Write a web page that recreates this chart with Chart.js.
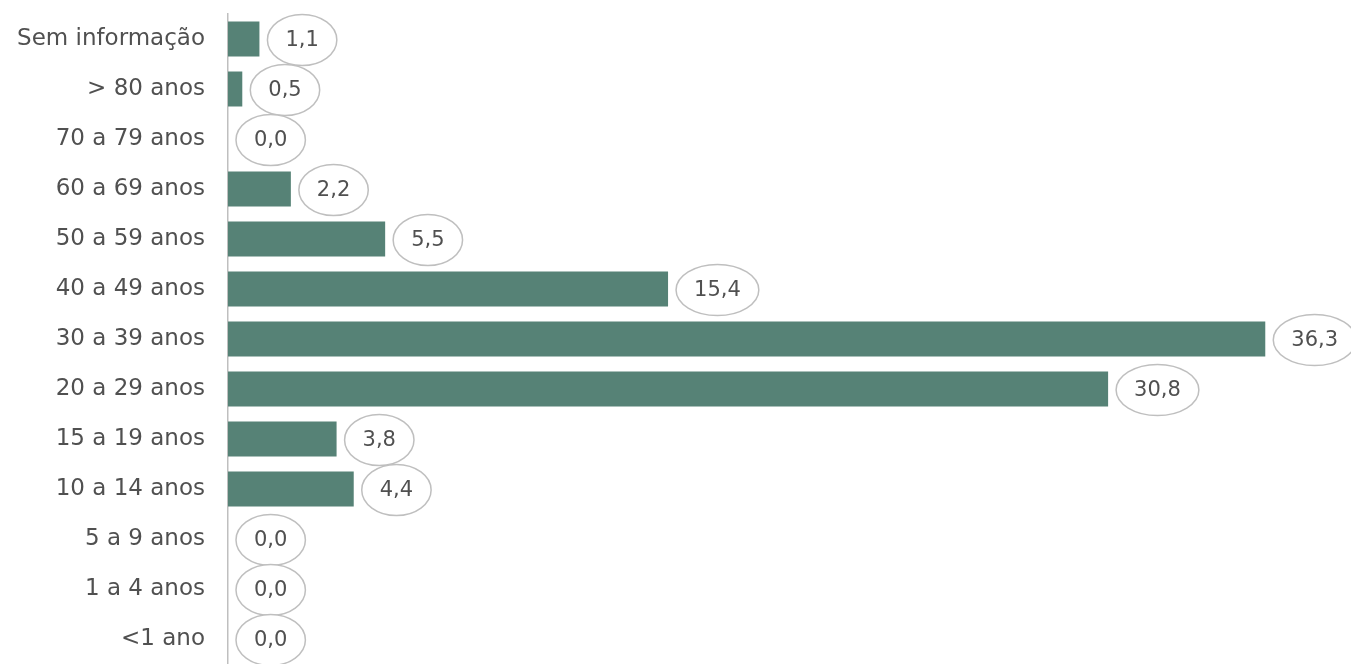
<!DOCTYPE html>
<html>
<head>
<meta charset="utf-8">
<script src="https://cdn.jsdelivr.net/npm/chart.js@4"></script>
<style>
  html, body { margin: 0; padding: 0; background: #ffffff; }
  #wrap { position: relative; width: 1351px; height: 664px; }
</style>
</head>
<body>
<div id="wrap"><canvas id="ageChart"></canvas></div>
<script>
// Age groups, top to bottom
const categories = [
    'Sem informação', '> 80 anos', '70 a 79 anos', '60 a 69 anos', '50 a 59 anos',
    '40 a 49 anos', '30 a 39 anos', '20 a 29 anos', '15 a 19 anos', '10 a 14 anos',
    '5 a 9 anos', '1 a 4 anos', '<1 ano'
];
const percentValues = [1.1, 0.5, 0.0, 2.2, 5.5, 15.4, 36.3, 30.8, 3.8, 4.4, 0.0, 0.0, 0.0];

const FONT = '"DejaVu Sans", sans-serif';

// Draws the value inside an ellipse to the right of each bar
const ellipseLabels = {
    id: 'ellipseLabels',
    afterDatasetsDraw(chart) {
        const ctx = chart.ctx;
        const meta = chart.getDatasetMeta(0);
        ctx.save();
        ctx.font = '21px ' + FONT;
        ctx.textAlign = 'center';
        ctx.textBaseline = 'middle';
        meta.data.forEach((bar, i) => {
            const text = percentValues[i].toFixed(1).replace('.', ',');
            const w = ctx.measureText(text).width + 36;
            const h = 51;
            const cx = bar.x + 8 + w / 2;
            const cy = bar.y + 1;
            ctx.beginPath();
            ctx.ellipse(cx, cy, w / 2, h / 2, 0, 0, Math.PI * 2);
            ctx.fillStyle = '#ffffff';
            ctx.fill();
            ctx.lineWidth = 1.5;
            ctx.strokeStyle = '#bfbfbf';
            ctx.stroke();
            ctx.fillStyle = '#505050';
            ctx.fillText(text, cx, cy + 1);
        });
        ctx.restore();
    }
};

new Chart(document.getElementById('ageChart'), {
    type: 'bar',
    data: {
        labels: categories,
        datasets: [{
            data: percentValues,
            backgroundColor: '#568276',
            borderWidth: 0,
            barPercentage: 0.7,
            categoryPercentage: 1.0
        }]
    },
    options: {
        indexAxis: 'y',
        responsive: true,
        maintainAspectRatio: false,
        animation: false,
        layout: { padding: { top: 14, right: 0, bottom: 0, left: 0 } },
        plugins: {
            legend: { display: false },
            tooltip: { enabled: false }
        },
        scales: {
            x: {
                display: false,
                min: 0,
                max: 39.3
            },
            y: {
                grid: { display: false },
                border: { display: true, color: '#bfbfbf', width: 1.5 },
                ticks: {
                    color: '#505050',
                    font: { family: FONT, size: 23 },
                    padding: 15
                },
                afterFit(scale) {
                    scale.width = 228;
                    scale.paddingTop = 0;
                    scale.paddingBottom = 0;
                }
            }
        }
    },
    plugins: [ellipseLabels]
});
</script>
</body>
</html>
